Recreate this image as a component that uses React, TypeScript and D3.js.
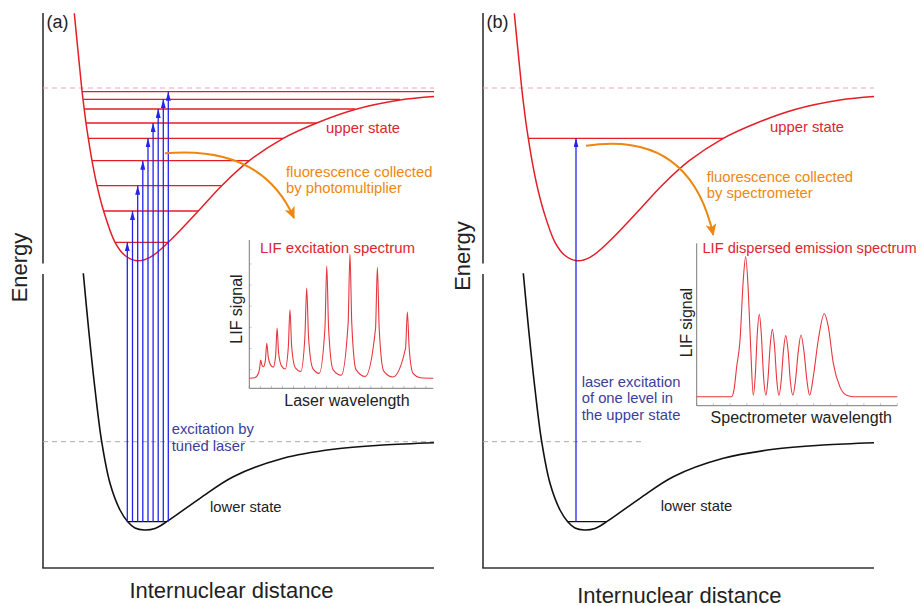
import React from "react";
import * as d3 from "d3";

const WIDTH = 921;
const HEIGHT = 606;
const FONT = "'Liberation Sans', Arial, sans-serif";

// potential energy curves (r in Å, E in cm^-1); both panels share them
const upperR = [0.313, 0.349, 0.387, 0.391, 0.4, 0.412, 0.43, 0.453, 0.49, 0.54, 0.606, 0.72, 0.82, 0.937, 1.07, 1.253, 1.553, 1.787, 2.063, 2.403, 2.737, 3.12, 3.57, 3.91];
const upperE = [5547, 5180, 4800, 4763, 4687, 4590, 4450, 4297, 4073, 3823, 3570, 3257, 3125, 3073, 3107, 3257, 3570, 3823, 4073, 4297, 4450, 4585, 4680, 4715];
const lowerR = [0.403, 0.457, 0.521, 0.587, 0.67, 0.77, 0.847, 0.92, 1.013, 1.12, 1.237, 1.57, 1.903, 2.403, 2.903, 3.4, 3.91];
const lowerE = [2947, 2380, 1780, 1263, 847, 580, 463, 400, 380, 395, 463, 697, 913, 1097, 1187, 1230, 1253];

// vibrational levels of the upper state
const levelE = [3257, 3570, 3823, 4073, 4297, 4450, 4590, 4687, 4763];
const levelLeftR = [0.72, 0.606, 0.54, 0.49, 0.453, 0.43, 0.412, 0.4, 0.391];
const levelRightR = [1.253, 1.553, 1.787, 2.063, 2.403, 2.737, 3.12, 3.57, 3.91];
// ground level of the lower state
const groundE = 463;
const groundR = [0.847, 1.237];
// dissociation limits
const upperLimitE = 4800;
const lowerLimitE = 1263;

// laser arrows, panel (a): one per upper level
const scanArrowR = [0.843, 0.895, 0.947, 0.998, 1.05, 1.101, 1.152, 1.203, 1.253];
const scanArrowLevel = [0, 1, 2, 3, 4, 5, 6, 7, 8];
// panel (b): a single level
const fixedArrowR = [0.93];
const fixedArrowLevel = [4];

// LIF excitation spectrum (a): laser wavelength (0-100), signal (0-100)
const excX = [0, 3, 5, 5.6, 6.2, 6.9, 7.7, 8.7, 9.5, 10.3, 11.5, 13, 14.3, 15.1, 15.9, 17.5, 19.5, 21.2, 22.1, 23, 25, 28, 30.2, 31.2, 32.2, 34.5, 38, 41.1, 42.1, 43.1, 45.5, 50, 53.7, 54.7, 55.7, 58, 63, 68.6, 69.6, 70.6, 73, 78, 84.9, 85.9, 86.9, 89, 93, 100];
const excY = [0, 0.5, 4, 8, 14.7, 10.5, 9.3, 14, 28.1, 17, 11, 9, 18, 40.5, 21, 10, 7.5, 25, 55.2, 26, 8.5, 5.5, 33, 72.6, 33, 8, 4, 40, 90.3, 40, 7, 2.5, 44, 100, 44, 7, 1.5, 40, 89.3, 40, 6, 1, 24, 53.3, 24, 4, 0.5, 0];
const excXTicks = [0, 6, 12, 18, 24, 30, 36, 42, 48, 54, 60, 66, 72, 78, 84, 90, 96];
const excYTicks = [7, 24, 41, 58, 75, 92];

// LIF dispersed emission spectrum (b)
const emiX = [0, 17.4, 18.6, 19.9, 21.6, 23.2, 24.4, 25.7, 26.9, 28.2, 29.2, 30.2, 31.2, 32.2, 33.3, 34.5, 35.5, 36.6, 37.7, 38.8, 39.9, 41, 42.1, 43.2, 44.4, 45.6, 46.7, 47.9, 49.2, 50.6, 52, 53.5, 55, 56.3, 58.1, 60.6, 63.6, 65.6, 68.1, 71.4, 74.8, 78, 100];
const emiY = [0, 0, 5, 21, 40.5, 83, 100, 76, 35.7, 1, 15, 45, 58.9, 45, 15, 1, 12, 36, 48.1, 36, 12, 1, 11, 32, 43.6, 32, 11, 1, 11, 32, 44.1, 32, 11, 1, 14, 40.5, 59.3, 50, 23.8, 7, 1, 0, 0];
const emiXTicks = [0, 8.33, 16.67, 25, 33.33, 41.67, 50, 58.33, 66.67, 75, 83.33, 91.67, 100];

const RED = "#e41e26";
const RED_TEXT = "#dc2630";
const BLUE = "#2424ee";
const PURPLE = "#3d3d9c";
const ORANGE = "#ee8712";
const INK = "#222";

const panels = [
  {
    key: "a",
    x0: 43,
    tag: "(a)",
    arrowR: scanArrowR,
    arrowLevel: scanArrowLevel,
    levels: [0, 1, 2, 3, 4, 5, 6, 7, 8],
    grayDashEnd: 3.91,
    energyLabel: { x: 27, y: 267.5 },
    distLabel: { x: 231.5, y: 598.3 },
    upperLabel: { x: 326, y: 133.3 },
    fluo: { x: 286, y: 176.7, lines: ["fluorescence collected", "by photomultiplier"] },
    fluoArrow: { s: [1.22, 4147], c: [2.19, 4230], e: [2.51, 3500] },
    lowerLabel: { x: 210, y: 511.7 },
    laser: { x: 171.7, y: 434, lines: ["excitation by", "tuned laser"] },
  },
  {
    key: "b",
    x0: 483,
    tag: "(b)",
    arrowR: fixedArrowR,
    arrowLevel: fixedArrowLevel,
    levels: [4],
    grayDashEnd: 1.62,
    energyLabel: { x: 470, y: 256 },
    distLabel: { x: 679.3, y: 602.5 },
    upperLabel: { x: 770, y: 131.7 },
    fluo: { x: 706.7, y: 181.7, lines: ["fluorescence collected", "by spectrometer"] },
    fluoArrow: { s: [1.03, 4223], c: [2.07, 4380], e: [2.303, 3330] },
    lowerLabel: { x: 660.7, y: 511 },
    laser: { x: 581.7, y: 386.5, lines: ["laser excitation", "of one level in", "the upper state"] },
  },
];

const insets = [
  {
    key: "a",
    frame: { left: 249.3, right: 433.3, bottom: 388.3, top: 240 },
    sig: [378.3, 254],
    xs: excX,
    ys: excY,
    xTicks: excXTicks,
    yTicks: excYTicks,
    title: "LIF excitation spectrum",
    titleSize: 15,
    titlePos: { x: 260, y: 253 },
    xLabel: "Laser wavelength",
    xLabelPos: { x: 347, y: 406 },
    yLabelPos: { x: 241.5, y: 309 },
  },
  {
    key: "b",
    frame: { left: 696.7, right: 897.3, bottom: 405.7, top: 243.3 },
    sig: [396.7, 256.7],
    xs: emiX,
    ys: emiY,
    xTicks: emiXTicks,
    yTicks: [] as number[],
    title: "LIF dispersed emission spectrum",
    titleSize: 14.6,
    titlePos: { x: 702.5, y: 253 },
    xLabel: "Spectrometer wavelength",
    xLabelPos: { x: 801.3, y: 422.5 },
    yLabelPos: { x: 691.5, y: 322.5 },
  },
];

function Panel({ p }: { p: any }) {
  const x = d3.scaleLinear().domain([0, 3.91]).range([p.x0, p.x0 + 391]);
  const y = d3.scaleLinear().domain([0, 5550]).range([568, 13]);
  const path = (rs: number[], es: number[]) =>
    d3
      .line<number>()
      .x((d) => x(d))
      .y((_, i) => y(es[i]))
      .curve(d3.curveCatmullRom.alpha(0.5))(rs) as string;

  const breakTop = y(3045);
  const breakBottom = y(2940);
  const fa = p.fluoArrow;

  return (
    <g>
      {/* energy axis with a break, distance axis */}
      <line x1={x(0)} x2={x(0)} y1={y(5550)} y2={breakTop} stroke="#333" strokeWidth={1.6} />
      <line x1={x(0)} x2={x(0)} y1={breakBottom} y2={y(0)} stroke="#333" strokeWidth={1.6} />
      <line x1={x(0) - 0.8} x2={x(3.91)} y1={y(0)} y2={y(0)} stroke="#333" strokeWidth={1.6} />

      {/* dissociation limits */}
      <line x1={x(0)} x2={x(3.91)} y1={y(upperLimitE)} y2={y(upperLimitE)} stroke="#f2a6b4" strokeWidth={1} strokeDasharray="5,4" />
      <line x1={x(0)} x2={x(p.grayDashEnd)} y1={y(lowerLimitE)} y2={y(lowerLimitE)} stroke="#aaa" strokeWidth={1} strokeDasharray="5,4" />

      {/* upper state levels */}
      {p.levels.map((k: number) => (
        <line key={k} x1={x(levelLeftR[k])} x2={x(levelRightR[k])} y1={y(levelE[k])} y2={y(levelE[k])} stroke={RED} strokeWidth={1.3} />
      ))}
      <path d={path(upperR, upperE)} fill="none" stroke={RED} strokeWidth={1.5} />

      {/* lower state */}
      <line x1={x(groundR[0])} x2={x(groundR[1])} y1={y(groundE)} y2={y(groundE)} stroke="#111" strokeWidth={1.2} />
      <path d={path(lowerR, lowerE)} fill="none" stroke="#111" strokeWidth={1.6} />

      {/* laser excitation arrows */}
      {p.arrowR.map((r: number, i: number) => (
        <line
          key={i}
          x1={x(r)}
          x2={x(r)}
          y1={y(groundE)}
          y2={y(levelE[p.arrowLevel[i]])}
          stroke={BLUE}
          strokeWidth={1.3}
          markerEnd="url(#blueHead)"
        />
      ))}

      {/* fluorescence arrow */}
      <path
        d={`M${x(fa.s[0])},${y(fa.s[1])} Q${x(fa.c[0])},${y(fa.c[1])} ${x(fa.e[0])},${y(fa.e[1])}`}
        fill="none"
        stroke={ORANGE}
        strokeWidth={2}
        markerEnd="url(#orangeHead)"
      />

      <text x={p.x0 + 3.5} y={28} fontSize={18} fill={INK}>{p.tag}</text>
      <text x={p.upperLabel.x} y={p.upperLabel.y} fontSize={14.8} fill={RED_TEXT}>upper state</text>
      <text x={p.lowerLabel.x} y={p.lowerLabel.y} fontSize={14.8} fill={INK}>lower state</text>
      {p.fluo.lines.map((t: string, i: number) => (
        <text key={t} x={p.fluo.x} y={p.fluo.y + i * 16.6} fontSize={14.8} fill={ORANGE}>{t}</text>
      ))}
      {p.laser.lines.map((t: string, i: number) => (
        <text key={t} x={p.laser.x} y={p.laser.y + i * 16.5} fontSize={14.8} fill={PURPLE}>{t}</text>
      ))}
      <text
        transform={`translate(${p.energyLabel.x},${p.energyLabel.y}) rotate(-90)`}
        textAnchor="middle"
        fontSize={22}
        fill={INK}
      >
        Energy
      </text>
      <text x={p.distLabel.x} y={p.distLabel.y} textAnchor="middle" fontSize={22} fill={INK}>
        Internuclear distance
      </text>
    </g>
  );
}

function Inset({ s }: { s: any }) {
  const f = s.frame;
  const x = d3.scaleLinear().domain([0, 100]).range([f.left, f.right]);
  const y = d3.scaleLinear().domain([0, 100]).range(s.sig);
  const d = d3
    .line<number>()
    .x((v) => x(v))
    .y((_, i) => y(s.ys[i]))
    .curve(d3.curveMonotoneX)(s.xs) as string;
  return (
    <g>
      {s.xTicks.map((t: number) => (
        <line key={"x" + t} x1={x(t)} x2={x(t)} y1={f.bottom} y2={f.bottom - 2.5} stroke="#b5b5b5" strokeWidth={0.8} />
      ))}
      {s.yTicks.map((t: number) => (
        <line key={"y" + t} x1={f.left} x2={f.left + 2.5} y1={y(t)} y2={y(t)} stroke="#c5c5c5" strokeWidth={0.8} />
      ))}
      <line x1={f.left} x2={f.left} y1={f.top} y2={f.bottom} stroke="#7a7a7a" strokeWidth={1} />
      <line x1={f.left} x2={f.right} y1={f.bottom} y2={f.bottom} stroke="#7a7a7a" strokeWidth={1} />
      <path d={d} fill="none" stroke="#e8363e" strokeWidth={1.1} />
      <text x={s.titlePos.x} y={s.titlePos.y} fontSize={s.titleSize} fill={RED_TEXT}>{s.title}</text>
      <text x={s.xLabelPos.x} y={s.xLabelPos.y} textAnchor="middle" fontSize={16} fill={INK}>{s.xLabel}</text>
      <text
        transform={`translate(${s.yLabelPos.x},${s.yLabelPos.y}) rotate(-90)`}
        textAnchor="middle"
        fontSize={16}
        fill={INK}
      >
        LIF signal
      </text>
    </g>
  );
}

export default function App() {
  return (
    <svg
      width={WIDTH}
      height={HEIGHT}
      style={{ position: "absolute", left: 0, top: 0, background: "#fff" }}
      fontFamily={FONT}
    >
      <defs>
        <marker id="blueHead" viewBox="0 0 9 5" refX={9} refY={2.5} markerWidth={9} markerHeight={5} markerUnits="userSpaceOnUse" orient="auto">
          <path d="M0,0L9,2.5L0,5Z" fill={BLUE} />
        </marker>
        <marker id="orangeHead" viewBox="0 0 12 11" refX={11} refY={5.5} markerWidth={12} markerHeight={11} markerUnits="userSpaceOnUse" orient="auto">
          <path d="M0,0L12,5.5L0,11L3,5.5Z" fill={ORANGE} />
        </marker>
      </defs>
      <rect width={WIDTH} height={HEIGHT} fill="#fff" />
      {panels.map((p) => (
        <Panel key={p.key} p={p} />
      ))}
      {insets.map((s) => (
        <Inset key={s.key} s={s} />
      ))}
    </svg>
  );
}
